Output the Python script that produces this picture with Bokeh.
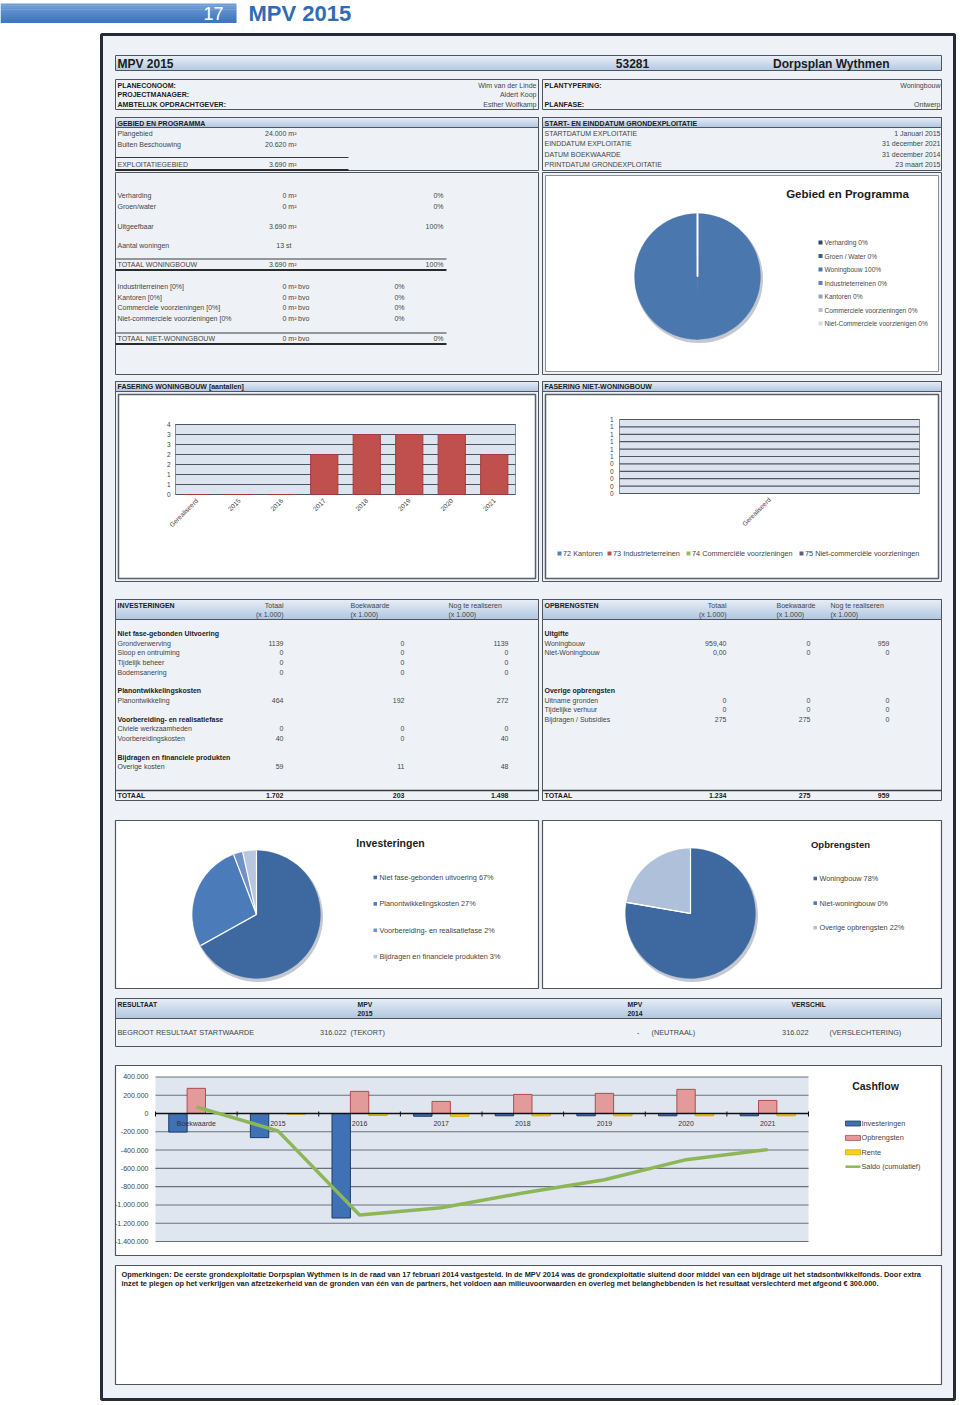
import math
from bokeh.plotting import figure
from bokeh.models import Range1d
from bokeh.core.properties import value
from bokeh.embed import file_html
from bokeh.resources import INLINE

FONT = "Liberation Sans"

# ====================== DATA ======================
page_number = "17"
page_title = "MPV 2015"
plan_title = "MPV 2015"
plan_number = "53281"
plan_name = "Dorpsplan Wythmen"

info_left_labels = ["PLANECONOOM:", "PROJECTMANAGER:", "AMBTELIJK OPDRACHTGEVER:"]
info_left_values = ["Wim van der Linde", "Aldert Koop", "Esther Wolfkamp"]
info_right_labels = ["PLANTYPERING:", "", "PLANFASE:"]
info_right_values = ["Woningbouw", "", "Ontwerp"]

area_labels = ["Plangebied", "Buiten Beschouwing", "EXPLOITATIEGEBIED"]
area_m2 = [24000, 20620, 3690]

date_labels = ["STARTDATUM EXPLOITATIE", "EINDDATUM EXPLOITATIE", "DATUM BOEKWAARDE", "PRINTDATUM GRONDEXPLOITATIE"]
date_values = ["1 Januari 2015", "31 december 2021", "31 december 2014", "23 maart 2015"]

housing_labels = ["Verharding", "Groen/water", "Uitgeefbaar"]
housing_m2 = [0, 0, 3690]
housing_pct = [0, 0, 100]
housing_units = 13
housing_total_m2 = 3690
housing_total_pct = 100

nonres_labels = ["Industriterreinen [0%]", "Kantoren [0%]", "Commerciele voorzieningen [0%]",
                 "Niet-commerciele voorzieningen [0%"]
nonres_m2 = [0, 0, 0, 0]
nonres_pct = [0, 0, 0, 0]
nonres_total_m2 = 0
nonres_total_pct = 0

gp_labels = ["Verharding", "Groen / Water", "Woningbouw", "Industrieterreinen", "Kantoren",
             "Commerciele voorzieningen", "Niet-Commerciele voorzienigen"]
gp_values = [0, 0, 3690, 0, 0, 0, 0]

fw_categories = ["Gerealiseerd", "2015", "2016", "2017", "2018", "2019", "2020", "2021"]
fw_values = [0, 0, 0, 2, 3, 3, 3, 2]
fw_ticks = [0, 0.5, 1, 1.5, 2, 2.5, 3, 3.5]
fw_tick_labels = ["0", "1", "1", "2", "2", "3", "3", "4"]

nw_categories = ["Gerealiseerd"]
nw_series = ["72 Kantoren", "73 Industrieterreinen", "74 Commerciële voorzieningen",
             "75 Niet-commerciële voorzieningen"]
nw_values = [[0], [0], [0], [0]]
nw_ticks = [0, 0.1, 0.2, 0.3, 0.4, 0.5, 0.6, 0.7, 0.8, 0.9, 1.0]
nw_tick_labels = ["0", "0", "0", "0", "0", "1", "1", "1", "1", "1", "1"]

inv_groups = ["Niet fase-gebonden Uitvoering", "Planontwikkelingskosten",
              "Voorbereiding- en realisatiefase", "Bijdragen en financiele produkten"]
inv_labels = [["Grondverwerving", "Sloop en ontruiming", "Tijdelijk beheer", "Bodemsanering"],
              ["Planontwikkeling"],
              ["Civiele werkzaamheden", "Voorbereidingskosten"],
              ["Overige kosten"]]
inv_totaal = [[1139, 0, 0, 0], [464], [0, 40], [59]]
inv_boek = [[0, 0, 0, 0], [192], [0, 0], [11]]
inv_nog = [[1139, 0, 0, 0], [272], [0, 40], [48]]
inv_totals = [1702, 203, 1498]

opb_groups = ["Uitgifte", "Overige opbrengsten"]
opb_labels = [["Woningbouw", "Niet-Woningbouw"],
              ["Uitname gronden", "Tijdelijke verhuur", "Bijdragen / Subsidies"]]
opb_totaal = [[959.40, 0.00], [0, 0, 275]]
opb_decimals = [2, 0]
opb_boek = [[0, 0], [0, 0, 275]]
opb_nog = [[959, 0], [0, 0, 0]]
opb_totals = [1234, 275, 959]

inv_pie_labels = ["Niet fase-gebonden uitvoering", "Planontwikkelingskosten",
                  "Voorbereiding- en realisatiefase", "Bijdragen en financiele produkten"]
opb_pie_labels = ["Woningbouw", "Niet-woningbouw", "Overige opbrengsten"]

res_label = "BEGROOT RESULTAAT STARTWAARDE"
res_mpv2015 = 316022
res_mpv2015_note = "(TEKORT)"
res_mpv2014 = "-"
res_mpv2014_note = "(NEUTRAAL)"
res_diff = 316022
res_diff_note = "(VERSLECHTERING)"

cf_categories = ["Boekwaarde", "2015", "2016", "2017", "2018", "2019", "2020", "2021"]
cf_investeringen = [-203000, -264000, -1143000, -30000, -25000, -25000, -25000, -25000]
cf_opbrengsten = [275000, 0, 242000, 132000, 209000, 220000, 264000, 143000]
cf_rente = [0, -8000, -22000, -30000, -25000, -25000, -25000, -25000]
cf_saldo = [72000, -190000, -1110000, -1030000, -870000, -725000, -505000, -395000]
cf_ticks = [-1400000, -1200000, -1000000, -800000, -600000, -400000, -200000, 0, 200000, 400000]
cf_series = ["Investeringen", "Opbrengsten", "Rente", "Saldo (cumulatief)"]

remark_lines = [
    "Opmerkingen: De eerste grondexploitatie Dorpsplan Wythmen is in de raad van 17 februari 2014 vastgesteld.  In de MPV 2014 was de grondexploitatie sluitend door middel van een bijdrage uit het stadsontwikkelfonds.  Door extra",
    "inzet te plegen op het verkrijgen van afzetzekerheid van de gronden van één van de partners, het voldoen aan milieuvoorwaarden en overleg met belanghebbenden is het resultaat verslechterd met afgeond € 300.000.",
]

# ====================== HELPERS ======================
PX0, PX1 = 0, 960
PY0, PY1 = 0, 1405


def Y(py):
    return 1405 - py


def xr(p0, p1, d0, d1):
    s = (d1 - d0) / (p1 - p0)
    return Range1d(start=d0 + (PX0 - p0) * s, end=d0 + (PX1 - p0) * s)


def yr(p0, p1, d0, d1):
    Y0, Y1 = Y(p0), Y(p1)
    s = (d1 - d0) / (Y1 - Y0)
    return Range1d(start=d0 + (Y(PY1) - Y0) * s, end=d0 + (Y(PY0) - Y0) * s)


def nl(n):
    return f"{int(round(n)):,}".replace(",", ".")


def mix(c1, c2, t):
    a = [int(c1[i:i + 2], 16) for i in (1, 3, 5)]
    b = [int(c2[i:i + 2], 16) for i in (1, 3, 5)]
    return "#%02x%02x%02x" % tuple(int(round(a[k] + (b[k] - a[k]) * t)) for k in range(3))


p = figure(width=PX1 - PX0, height=PY1 - PY0, x_range=Range1d(PX0, PX1), y_range=Range1d(Y(PY1), Y(PY0)),
           output_backend="svg", toolbar_location=None, x_axis_location=None, y_axis_location=None,
           min_border=0, min_border_left=0, min_border_right=0, min_border_top=0, min_border_bottom=0)
p.grid.visible = False
p.outline_line_color = None
p.background_fill_color = "white"
p.border_fill_color = "white"

BORDER = "#4f545e"
DARK = "#1c1c1c"
GREY = "#454545"


def box(x0, y0, x1, y1, fill=None, line=BORDER, lw=1.0):
    p.quad(left=[x0], right=[x1], top=[Y(y0)], bottom=[Y(y1)], fill_color=fill,
           line_color=line, line_width=lw)


def vgrad(x0, y0, x1, y1, ctop, cbot, n=10):
    h = (y1 - y0) / n
    p.quad(left=[x0] * n, right=[x1] * n,
           top=[Y(y0 + i * h) for i in range(n)],
           bottom=[Y(y0 + (i + 1) * h) - 0.4 for i in range(n)],
           fill_color=[mix(ctop, cbot, i / (n - 1)) for i in range(n)], line_color=None)


def hline(x0, x1, y, color="#3a3a3a", lw=1.0):
    p.segment(x0=[x0], x1=[x1], y0=[Y(y)], y1=[Y(y)], line_color=color, line_width=lw)


def header(x0, y0, x1, y1):
    vgrad(x0, y0, x1, y1, "#e4ecf6", "#b4c8e1")
    box(x0, y0, x1, y1, None)


texts = []


def T(x, y, s, size=7.0, bold=False, align="left", color=GREY):
    texts.append((x, Y(y), s, size, bold, align, color))


def pie(cx, cy, r, vals, colors):
    tot = float(sum(vals))
    p.circle(x=[cx + 1.5], y=[Y(cy + 2.5)], radius=r + 1, fill_color="#c3c8d1", line_color=None)
    st, en, cols, bounds = [], [], [], []
    c = 0.0
    for v, col in zip(vals, colors):
        a0 = math.pi / 2 - 2 * math.pi * c / tot
        c += v
        a1 = math.pi / 2 - 2 * math.pi * c / tot
        bounds.append(a0)
        span = a0 - a1
        if span > 1e-9:
            k = 2 if span > 1.9 * math.pi else 1
            for j in range(k):
                st.append(a0 - span * j / k)
                en.append(a0 - span * (j + 1) / k - (0.02 if j < k - 1 else 0))
                cols.append(col)
    n = len(st)
    p.wedge(x=[cx] * n, y=[Y(cy)] * n, radius=r, start_angle=st, end_angle=en,
            direction="clock", fill_color=cols, line_color=cols, line_width=0.3)
    bx = [cx + r * math.cos(a) for a in bounds]
    by = [Y(cy) + r * math.sin(a) for a in bounds]
    p.segment(x0=[cx] * len(bounds), y0=[Y(cy)] * len(bounds), x1=bx, y1=by,
              line_color="white", line_width=1.2)


# ====================== PAGE HEADER ======================
vgrad(0, 3, 236, 22, "#6f9dd6", "#3f76bd")
T(213, 12.5, page_number, 18, False, "center", "white")
T(248, 12.5, page_title, 22, True, "left", "#2f6cb4")

# main frame
box(101, 34, 954, 1399, "#eef2f7", "#272b37", 3)

# title bar
vgrad(115, 55, 941, 70, "#e6eef7", "#b6cae3")
box(115, 55, 941, 70, None)
T(117, 63, plan_title, 12, True, "left", DARK)
T(632, 63, plan_number, 12, True, "center", DARK)
T(889, 63, plan_name, 12, True, "right", DARK)

# info boxes
box(115, 79, 538, 109, None)
box(542, 79, 941, 109, None)
for i, (lab, val) in enumerate(zip(info_left_labels, info_left_values)):
    y = 85 + 9.3 * i
    T(117, y, lab, 7, True, "left", DARK)
    T(536, y, val, 7, False, "right", GREY)
for i, (lab, val) in enumerate(zip(info_right_labels, info_right_values)):
    y = 85 + 9.3 * i
    if lab:
        T(544, y, lab, 7, True, "left", DARK)
        T(940, y, val, 7, False, "right", GREY)

# ====================== GEBIED EN PROGRAMMA ======================
header(115, 117, 538, 127)
box(115, 117, 538, 170, None)
T(117, 122.5, "GEBIED EN PROGRAMMA", 7, True, "left", DARK)
area_y = [133, 144, 164]
for lab, v, y in zip(area_labels, area_m2, area_y):
    T(117, y, lab, 7)
    T(296, y, f"{nl(v)} m²", 7, False, "right")
hline(115, 348, 157, "#3a3a3a", 1)
hline(115, 348, 169.5, "#2a2a2a", 2)

header(542, 117, 941, 127)
box(542, 117, 941, 170, None)
T(544, 122.5, "START- EN EINDDATUM GRONDEXPLOITATIE", 7, True, "left", DARK)
for i, (lab, val) in enumerate(zip(date_labels, date_values)):
    y = 133 + 10.3 * i
    T(544, y, lab, 7)
    T(940, y, val, 7, False, "right")

box(115, 172, 538, 374, None)
for lab, m2, pc, y in zip(housing_labels, housing_m2, housing_pct, [195, 205.5, 225.5]):
    T(117, y, lab, 7)
    T(296, y, f"{nl(m2)} m²", 7, False, "right")
    T(443, y, f"{pc}%", 7, False, "right")
T(117, 244.5, "Aantal woningen", 7)
T(291, 244.5, f"{housing_units} st", 7, False, "right")
hline(115, 446, 258.5, "#3a3a3a", 1)
T(117, 264, "TOTAAL WONINGBOUW", 7)
T(296, 264, f"{nl(housing_total_m2)} m²", 7, False, "right")
T(443, 264, f"{housing_total_pct}%", 7, False, "right")
hline(115, 446, 269.5, "#2a2a2a", 2)
for lab, m2, pc, y in zip(nonres_labels, nonres_m2, nonres_pct, [286, 296.5, 307, 317.5]):
    T(117, y, lab, 7)
    T(296, y, f"{nl(m2)} m²", 7, False, "right")
    T(297.5, y, "bvo", 7, False, "left")
    T(404, y, f"{pc}%", 7, False, "right")
hline(115, 446, 332.5, "#3a3a3a", 1)
T(117, 338, "TOTAAL NIET-WONINGBOUW", 7)
T(296, 338, f"{nl(nonres_total_m2)} m²", 7, False, "right")
T(297.5, 338, "bvo", 7, False, "left")
T(443, 338, f"{nonres_total_pct}%", 7, False, "right")
hline(115, 446, 343.5, "#2a2a2a", 2)

# pie Gebied en Programma
box(542, 172, 941, 374, None)
box(545, 175, 938, 371, "white", "#8a8f98", 1)
T(847, 193, "Gebied en Programma", 11.5, True, "center", DARK)
gp_colors = ["#2b4a72", "#375d8e", "#4a77ae", "#5b84ba", "#8ea4c2", "#b2c1d7", "#d3dcea"]
pie(697, 276, 63, gp_values, gp_colors)
gp_tot = sum(gp_values)
for i, (lab, v) in enumerate(zip(gp_labels, gp_values)):
    y = 242 + 13.5 * i
    box(818, y - 2, 822, y + 2, gp_colors[i], None)
    T(824, y, f"{lab} {round(100 * v / gp_tot)}%", 6.6, False, "left", "#4a4a4a")

# ====================== FASERING ======================
header(115, 381, 538, 391)
box(115, 381, 538, 581, None)
box(118, 394, 535, 578, "white", "#5a5f68", 1.5)
T(117, 386, "FASERING WONINGBOUW [aantallen]", 7, True, "left", DARK)

header(542, 381, 941, 391)
box(542, 381, 941, 581, None)
box(545, 394, 938, 578, "white", "#5a5f68", 1.5)
T(544, 386, "FASERING NIET-WONINGBOUW", 7, True, "left", DARK)

# woningbouw chart
nfw = len(fw_categories)
p.extra_x_ranges["fw"] = xr(175, 515, -0.5, nfw - 0.5)
p.extra_y_ranges["fw"] = yr(494, 424, 0, fw_ticks[-1])
p.quad(left=[-0.5], right=[nfw - 0.5], bottom=[0], top=[fw_ticks[-1]], fill_color="#dce4f0",
       line_color="#8a909a", x_range_name="fw", y_range_name="fw")
p.segment(x0=[-0.5] * len(fw_ticks), x1=[nfw - 0.5] * len(fw_ticks), y0=fw_ticks, y1=fw_ticks,
          line_color="#4f5561", line_width=1.2, x_range_name="fw", y_range_name="fw")
p.vbar(x=list(range(nfw)), top=fw_values, bottom=0, width=0.64, fill_color="#c0504d",
       line_color="#a03d3b", x_range_name="fw", y_range_name="fw")
p.text(x=[170] * len(fw_ticks), y=fw_ticks, text=fw_tick_labels, y_range_name="fw",
       text_font=value(FONT), text_font_size="6.5px", text_align="right", text_baseline="middle",
       text_color="#444444")
p.text(x=list(range(nfw)), y=[Y(499)] * nfw, text=fw_categories, x_range_name="fw",
       angle=math.pi / 4, text_font=value(FONT), text_font_size="6.5px", text_align="right",
       text_baseline="middle", text_color="#444444")

# niet-woningbouw chart
nnw = len(nw_categories)
p.extra_x_ranges["nw"] = xr(619, 919, -0.5, nnw - 0.5)
p.extra_y_ranges["nw"] = yr(493, 419, 0, nw_ticks[-1])
p.quad(left=[-0.5], right=[nnw - 0.5], bottom=[0], top=[nw_ticks[-1]], fill_color="#dce4f0",
       line_color="#8a909a", x_range_name="nw", y_range_name="nw")
p.segment(x0=[-0.5] * len(nw_ticks), x1=[nnw - 0.5] * len(nw_ticks), y0=nw_ticks, y1=nw_ticks,
          line_color="#4f5561", line_width=1.2, x_range_name="nw", y_range_name="nw")
nw_colors = ["#4f81bd", "#c0504d", "#9bbb59", "#5f5c80"]
for k, (vals, col) in enumerate(zip(nw_values, nw_colors)):
    p.vbar(x=[i - 0.3 + 0.2 * k for i in range(nnw)], top=vals, bottom=0, width=0.18,
           fill_color=col, line_color=None, x_range_name="nw", y_range_name="nw")
p.text(x=[613] * len(nw_ticks), y=nw_ticks, text=nw_tick_labels, y_range_name="nw",
       text_font=value(FONT), text_font_size="6.5px", text_align="right", text_baseline="middle",
       text_color="#444444")
p.text(x=list(range(nnw)), y=[Y(498)] * nnw, text=nw_categories, x_range_name="nw",
       angle=math.pi / 4, text_font=value(FONT), text_font_size="6.5px", text_align="right",
       text_baseline="middle", text_color="#444444")
for lab, col, lx in zip(nw_series, nw_colors, [557, 607, 686, 799]):
    box(lx, 551, lx + 4, 555, col, None)
    T(lx + 5.5, 553, lab, 7.3, False, "left", "#444444")

# ====================== TABLES ======================
box(115, 599, 538, 800, None)
header(115, 599, 538, 619)
T(117, 605, "INVESTERINGEN", 7, True, "left", DARK)
T(283, 605, "Totaal", 7, False, "right")
T(283, 614, "(x 1.000)", 7, False, "right")
T(350, 605, "Boekwaarde", 7)
T(350, 614, "(x 1.000)", 7)
T(448, 605, "Nog te realiseren", 7)
T(448, 614, "(x 1.000)", 7)
y = 633
for g, labs, a_, b_, c_ in zip(inv_groups, inv_labels, inv_totaal, inv_boek, inv_nog):
    T(117, y, g, 7, True, "left", DARK)
    yy = y
    for k, (lab, a, b, c) in enumerate(zip(labs, a_, b_, c_)):
        yy = y + 9.7 * (k + 1)
        T(117, yy, lab, 7)
        T(283, yy, str(a), 7, False, "right")
        T(404, yy, str(b), 7, False, "right")
        T(508, yy, str(c), 7, False, "right")
    y = yy + 18.6
hline(115, 538, 790, "#3a3a3a", 1.5)
T(117, 795, "TOTAAL", 7, True, "left", DARK)
for v, xx in zip(inv_totals, [283, 404, 508]):
    T(xx, 795, nl(v), 7, True, "right", DARK)

box(542, 599, 941, 800, None)
header(542, 599, 941, 619)
T(544, 605, "OPBRENGSTEN", 7, True, "left", DARK)
T(726, 605, "Totaal", 7, False, "right")
T(726, 614, "(x 1.000)", 7, False, "right")
T(776, 605, "Boekwaarde", 7)
T(776, 614, "(x 1.000)", 7)
T(830, 605, "Nog te realiseren", 7)
T(830, 614, "(x 1.000)", 7)
for g, labs, a_, b_, c_, dec, y in zip(opb_groups, opb_labels, opb_totaal, opb_boek, opb_nog,
                                        opb_decimals, [633, 690]):
    T(544, y, g, 7, True, "left", DARK)
    for k, (lab, a, b, c) in enumerate(zip(labs, a_, b_, c_)):
        yy = y + 9.7 * (k + 1)
        T(544, yy, lab, 7)
        txt = f"{a:.2f}".replace(".", ",") if dec else str(int(a))
        T(726, yy, txt, 7, False, "right")
        T(810, yy, str(b), 7, False, "right")
        T(889, yy, str(c), 7, False, "right")
hline(542, 941, 790, "#3a3a3a", 1.5)
T(544, 795, "TOTAAL", 7, True, "left", DARK)
for v, xx in zip(opb_totals, [726, 810, 889]):
    T(xx, 795, nl(v), 7, True, "right", DARK)

# ====================== PIES ======================
box(115, 820, 538, 988, "white", BORDER, 1.2)
box(542, 820, 941, 988, "white", BORDER, 1.2)

inv_pie_values = [sum(g) for g in inv_totaal]
inv_colors = ["#3d69a0", "#4b7bb8", "#6f91c6", "#b8c7de"]
pie(256, 914, 64, inv_pie_values, inv_colors)
T(390, 842, "Investeringen", 10.5, True, "center", DARK)
tot = sum(inv_pie_values)
for i, (lab, v) in enumerate(zip(inv_pie_labels, inv_pie_values)):
    yy = 877 + 26.4 * i
    box(373, yy - 1.8, 376.5, yy + 1.8, inv_colors[i], None)
    T(379, yy, f"{lab} {round(100 * v / tot)}%", 7.3, False, "left", "#444444")

opb_pie_values = [sum(opb_totaal[0][:1]), sum(opb_totaal[0][1:]), sum(opb_totaal[1])]
opb_colors = ["#3d69a0", "#4b7bb8", "#afc0db"]
pie(690, 913, 65, opb_pie_values, opb_colors)
T(840, 844, "Opbrengsten", 9.5, True, "center", DARK)
tot = sum(opb_pie_values)
for i, (lab, v) in enumerate(zip(opb_pie_labels, opb_pie_values)):
    yy = 878 + 24.6 * i
    box(813, yy - 1.8, 816.5, yy + 1.8, opb_colors[i], None)
    T(819, yy, f"{lab} {round(100 * v / tot)}%", 7.3, False, "left", "#444444")

# ====================== RESULTAAT ======================
box(115, 998, 941, 1046, None)
header(115, 998, 941, 1018)
T(117, 1003.5, "RESULTAAT", 6.8, True, "left", DARK)
T(357, 1003.5, "MPV", 6.8, True, "left", DARK)
T(357, 1013, "2015", 6.8, True, "left", DARK)
T(627, 1003.5, "MPV", 6.8, True, "left", DARK)
T(627, 1013, "2014", 6.8, True, "left", DARK)
T(791, 1003.5, "VERSCHIL", 6.8, True, "left", DARK)
T(117, 1032, res_label, 7.3)
T(346, 1032, nl(res_mpv2015), 7.3, False, "right")
T(350, 1032, res_mpv2015_note, 7.3)
T(639, 1032, res_mpv2014, 7.3, False, "right")
T(651, 1032, res_mpv2014_note, 7.3)
T(808, 1032, nl(res_diff), 7.3, False, "right")
T(829, 1032, res_diff_note, 7.3)

# ====================== CASHFLOW ======================
box(115, 1065, 941, 1255, "white", BORDER, 1.2)
ncf = len(cf_categories)
p.extra_x_ranges["cf"] = xr(155, 808, -0.5, ncf - 0.5)
p.extra_y_ranges["cf"] = yr(1113, 1241, 0, cf_ticks[0])
p.quad(left=[-0.5], right=[ncf - 0.5], bottom=[cf_ticks[0]], top=[cf_ticks[-1]],
       fill_color="#dfe6f0", line_color=None, x_range_name="cf", y_range_name="cf")
gl = [t for t in cf_ticks if t != 0]
p.segment(x0=[-0.5] * len(gl), x1=[ncf - 0.5] * len(gl), y0=gl, y1=gl, line_color="#6b717c",
          line_width=1.1, x_range_name="cf", y_range_name="cf")
p.vbar(x=[i - 0.225 for i in range(ncf)], top=cf_investeringen, bottom=0, width=0.225,
       fill_color="#3f72b5", line_color="#1f3a66", x_range_name="cf", y_range_name="cf")
p.vbar(x=[i for i in range(ncf)], top=cf_opbrengsten, bottom=0, width=0.225,
       fill_color="#e39a9b", line_color="#b34a4c", x_range_name="cf", y_range_name="cf")
p.vbar(x=[i + 0.225 for i in range(ncf)], top=cf_rente, bottom=0, width=0.225,
       fill_color="#f8d11f", line_color="#d9a700", x_range_name="cf", y_range_name="cf")
p.segment(x0=[-0.5], x1=[ncf - 0.5], y0=[0], y1=[0], line_color="#111111", line_width=1.6,
          x_range_name="cf", y_range_name="cf")
p.segment(x0=[k - 0.5 for k in range(ncf + 1)], x1=[k - 0.5 for k in range(ncf + 1)],
          y0=[Y(1111)] * (ncf + 1), y1=[Y(1116)] * (ncf + 1), line_color="#111111",
          line_width=1, x_range_name="cf")
p.line(x=list(range(ncf)), y=cf_saldo, line_color="#8db656", line_width=3.5,
       x_range_name="cf", y_range_name="cf")
p.text(x=[148] * len(cf_ticks), y=cf_ticks, text=[nl(t) for t in cf_ticks], y_range_name="cf",
       text_font=value(FONT), text_font_size="7px", text_align="right", text_baseline="middle",
       text_color="#444444")
p.text(x=list(range(ncf)), y=[Y(1123)] * ncf, text=cf_categories, x_range_name="cf",
       text_font=value(FONT), text_font_size="7px", text_align="center", text_baseline="middle",
       text_color="#333333")
T(875, 1085, "Cashflow", 10.5, True, "center", DARK)
cf_fill = ["#3f72b5", "#e39a9b", "#f8d11f"]
cf_line = ["#1f3a66", "#b34a4c", "#d9a700"]
for i, lab in enumerate(cf_series):
    yy = 1123 + 14.4 * i
    if i < 3:
        box(845, yy - 2.5, 860, yy + 2.5, cf_fill[i], cf_line[i], 0.8)
    else:
        hline(845, 860, yy, "#8db656", 2.5)
    T(861, yy, lab, 7.3, False, "left", "#444444")

# ====================== OPMERKINGEN ======================
box(115, 1265, 941, 1384, "white", BORDER, 1.2)
for i, line in enumerate(remark_lines):
    T(121, 1274 + 9 * i, line, 7.4, True, "left", "#222222")

# ====================== render texts ======================
groups = {}
for (x, y, s, size, bold, align, color) in texts:
    groups.setdefault((size, bold, align, color), []).append((x, y, s))
for (size, bold, align, color), items in groups.items():
    p.text(x=[it[0] for it in items], y=[it[1] for it in items], text=[it[2] for it in items],
           text_font=value(FONT), text_font_size=f"{size}px",
           text_font_style="bold" if bold else "normal", text_align=align,
           text_baseline="middle", text_color=color)

open("out.html", "w").write(file_html(p, INLINE))
